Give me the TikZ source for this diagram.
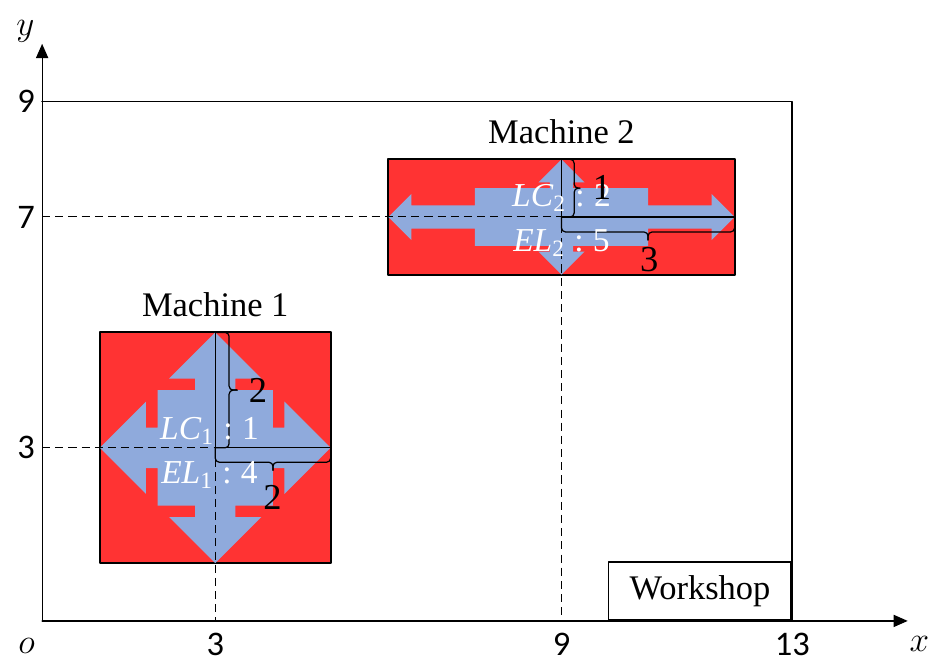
\documentclass[tikz,border=0pt]{standalone}
\usepackage{fontspec}
\setmainfont{Liberation Serif}
\newfontfamily\calibrifont{Carlito}
\usepackage{tikz}
\usetikzlibrary{arrows.meta}
\definecolor{machred}{RGB}{255,51,51}
\definecolor{flowblue}{RGB}{143,170,220}

\begin{document}
\begin{tikzpicture}[line cap=round,line join=round,>={Triangle[length=7pt,width=6pt]},x=1.0cm,y=1.0cm,
    machine/.style={draw=black,fill=machred,line width=1pt,inner sep=0pt},
    flow/.style={fill=flowblue},
    guide/.style={dash pattern=on 4pt off 2.5pt,line width=0.5pt,line cap=butt},
    dimline/.style={line width=0.6pt},
    brace/.style={line width=0.6pt,rounded corners=2pt},
    mname/.style={font=\fontsize{17}{20}\selectfont},
    tick/.style={font=\calibrifont\fontsize{17}{19}\selectfont,inner sep=0.5pt},
    axisname/.style={font=\fontsize{17}{20}\selectfont,inner sep=1pt},
    dimval/.style={font=\fontsize{18}{21}\selectfont,inner sep=1pt},
    lcel/.style={text=white,font=\fontsize{16.5}{19}\selectfont,anchor=base,inner sep=1pt}]
      \useasboundingbox (-0.73,-0.66) rectangle (15.49,10.76);
      % workshop boundary
      \draw[line width=0.9pt] (0,9) -- (13,9) -- (13,0);
      % machines
      \node[machine,minimum width=4cm,minimum height=4cm] (m1) at (3,3) {};
      \node[machine,minimum width=6cm,minimum height=2cm] (m2) at (9,7) {};
      \node[mname,anchor=base] (m1name) at ([yshift=0.25cm]m1.north) {Machine 1};
      \node[mname,anchor=base] (m2name) at ([yshift=0.25cm]m2.north) {Machine 2};
      % flow areas
      \fill[flow,shift={(3,3)}] (0,2) -- (0.8,1.2) -- (0.35,1.2) -- (0.35,1) -- (1,1) -- (1,0.35) -- (1.2,0.35) -- (1.2,0.8)
        -- (2,0) -- (1.2,-0.8) -- (1.2,-0.35) -- (1,-0.35) -- (1,-1) -- (0.35,-1) -- (0.35,-1.2) -- (0.8,-1.2)
        -- (0,-2) -- (-0.8,-1.2) -- (-0.35,-1.2) -- (-0.35,-1) -- (-1,-1) -- (-1,-0.35) -- (-1.2,-0.35) -- (-1.2,-0.8)
        -- (-2,0) -- (-1.2,0.8) -- (-1.2,0.35) -- (-1,0.35) -- (-1,1) -- (-0.35,1) -- (-0.35,1.2) -- (-0.8,1.2) -- cycle;
      \fill[flow,shift={(9,7)}] (0,1) -- (0.4,0.6) -- (0.2,0.6) -- (0.2,0.5) -- (1.5,0.5) -- (1.5,0.2) -- (2.6,0.2) -- (2.6,0.4)
        -- (3,0) -- (2.6,-0.4) -- (2.6,-0.2) -- (1.5,-0.2) -- (1.5,-0.5) -- (0.2,-0.5) -- (0.2,-0.6) -- (0.4,-0.6)
        -- (0,-1) -- (-0.4,-0.6) -- (-0.2,-0.6) -- (-0.2,-0.5) -- (-1.5,-0.5) -- (-1.5,-0.2) -- (-2.6,-0.2) -- (-2.6,-0.4)
        -- (-3,0) -- (-2.6,0.4) -- (-2.6,0.2) -- (-1.5,0.2) -- (-1.5,0.5) -- (-0.2,0.5) -- (-0.2,0.6) -- (-0.4,0.6) -- cycle;
      % centre guides
      \draw[guide] (0,3) -- (3,3) -- (3,0);
      \draw[guide] (0,7) -- (9,7) -- (9,0);
      % sizes
      \draw[dimline] (3,5) -- (3,3) -- (5,3);
      \draw[dimline] (9,8) -- (9,7) -- (12,7);
      \draw[brace] (3,5) -- (3.24,5) -- (3.24,4) -- (3.38,4);
      \draw[brace] (3.38,4) -- (3.24,4) -- (3.24,3) -- (3,3);
      \draw[brace] (3,3) -- (3,2.75) -- (4,2.75) -- (4,2.61);
      \draw[brace] (4,2.61) -- (4,2.75) -- (5,2.75) -- (5,3);
      \draw[brace] (9,8) -- (9.22,8) -- (9.22,7.5) -- (9.32,7.5);
      \draw[brace] (9.32,7.5) -- (9.22,7.5) -- (9.22,7) -- (9,7);
      \draw[brace] (9,7) -- (9,6.74) -- (10.5,6.74) -- (10.5,6.6);
      \draw[brace] (10.5,6.6) -- (10.5,6.74) -- (12,6.74) -- (12,7);
      \node[lcel] (lc1) at (2.9,3.14) {\textit{LC}\textsubscript{1}\;:\;1};
      \node[lcel] (el1) at (2.9,2.39) {\textit{EL}\textsubscript{1}\;:\;4};
      \node[lcel] (lc2) at (9,7.18) {\textit{LC}\textsubscript{2}\;:\;2};
      \node[lcel] (el2) at (9,6.40) {\textit{EL}\textsubscript{2}\;:\;5};
      \node[dimval] (v1) at (3.74,4.0) {2};
      \node[dimval] (h1) at (3.99,2.14) {2};
      \node[dimval] (v2) at (9.70,7.51) {1};
      \node[dimval] (h2) at (10.52,6.26) {3};
      % workshop door
      \node[draw,line width=0.9pt,minimum width=3.17cm,minimum height=1cm,anchor=south east,mname] (shop) at (13,0) {Workshop};
      % axes
      \draw[->,line width=0.6pt] (0,0) -- (15,0);
      \draw[->,line width=0.6pt] (0,0) -- (0,10);
      \foreach \y in {3,7,9}
      \node[tick,anchor=east] (ytick\y) at (-0.1,\y) {\y};
      \foreach \x in {3,9,13}
      \node[tick] (xtick\x) at (\x,-0.40) {\x};
      \node[axisname] (xname) at (15.2,-0.4) {$x$};
      \node[axisname] (yname) at (-0.29,10.22) {$y$};
      \node[axisname] (oname) at (-0.27,-0.43) {$o$};
\end{tikzpicture}
\end{document}
